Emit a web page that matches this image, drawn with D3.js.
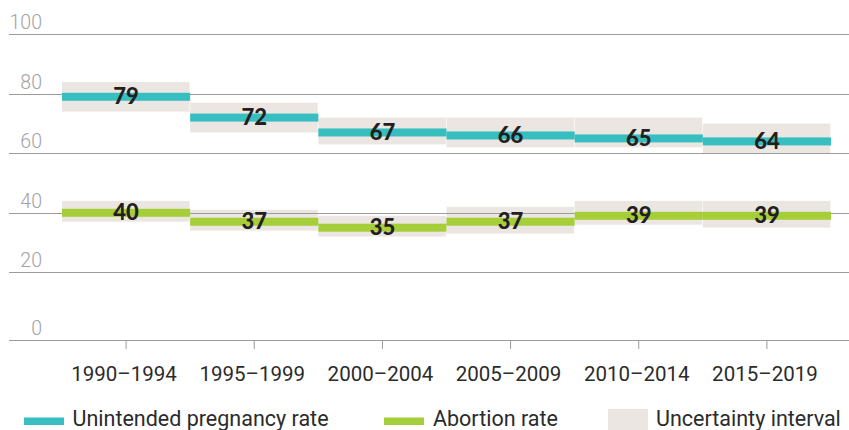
<!DOCTYPE html>
<html>
<head>
<meta charset="utf-8">
<script src="https://cdn.jsdelivr.net/npm/d3@7"></script>
<style>
  html, body { margin: 0; padding: 0; background: #fff; }
  svg { display: block; }
</style>
</head>
<body>
<svg id="chart" width="849" height="430"></svg>
<script>
// ---- data ----
const periods = ["1990–1994", "1995–1999", "2000–2004", "2005–2009", "2010–2014", "2015–2019"];
const unintendedRate = [79, 72, 67, 66, 65, 64];
const unintendedLow  = [74, 67, 63, 62, 62, 60];
const unintendedHigh = [84, 77, 72, 72, 72, 70];
const abortionRate   = [40, 37, 35, 37, 39, 39];
const abortionLow    = [37, 34, 32, 33, 36, 35];
const abortionHigh   = [44, 41, 39, 42, 44, 44];
const yTicks = [0, 20, 40, 60, 80, 100];
const legendLabels = ["Unintended pregnancy rate", "Abortion rate", "Uncertainty interval"];

// ---- styles ----
const C_CYAN = "#36bec0", C_GREEN = "#a6ce39", C_BAND = "#ebe6e2";
const C_GRID = "#9b9b9b", C_YLAB = "#a3a3a3", C_TEXT = "#231f20";

const svg = d3.select("#chart");

const x = d3.scaleBand().domain(periods).range([62, 831]).padding(0);
// axis drawn with the zero line at the base of the plot
const y = d3.scaleLinear().domain([0, 20, 100]).range([340, 272.3, 34.3]);

// uncertainty bands
const bands = svg.append("g");
function drawBands(lo, hi) {
  bands.selectAll(null).data(periods).enter().append("rect")
    .attr("x", d => x(d))
    .attr("width", x.bandwidth() - 0.6)
    .attr("y", (d, i) => y(hi[i]))
    .attr("height", (d, i) => y(lo[i]) - y(hi[i]))
    .attr("fill", C_BAND);
}
drawBands(unintendedLow, unintendedHigh);
drawBands(abortionLow, abortionHigh);

// gridlines
svg.append("g").selectAll("line").data(yTicks).enter().append("line")
  .attr("x1", 9).attr("x2", 849)
  .attr("y1", d => Math.round(y(d)) + 0.5).attr("y2", d => Math.round(y(d)) + 0.5)
  .attr("stroke", C_GRID).attr("stroke-width", 1);

// y labels
svg.append("g").selectAll("text").data(yTicks).enter().append("text")
  .attr("x", 42).attr("y", d => y(d) - 5)
  .attr("text-anchor", "end")
  .attr("font-family", "Roboto, sans-serif").attr("font-weight", 300)
  .attr("font-size", 19.5).attr("fill", C_YLAB)
  .text(d => d);

// x axis ticks and labels
const xAxis = d3.axisBottom(x).tickSize(9).tickPadding(17);
const gx = svg.append("g").attr("transform", "translate(0,340)").call(xAxis);
gx.select(".domain").remove();
gx.selectAll(".tick line").attr("stroke", C_GRID);
gx.selectAll(".tick text")
  .attr("font-family", "Roboto, sans-serif").attr("font-weight", 400)
  .attr("font-size", 20.5).attr("fill", "#2b2b2b").attr("dx", -2);

// rate lines
function drawRates(vals, color) {
  const g = svg.append("g");
  g.selectAll("rect").data(periods).enter().append("rect")
    .attr("x", d => x(d))
    .attr("width", x.bandwidth())
    .attr("y", (d, i) => y(vals[i]) - 4)
    .attr("height", 8)
    .attr("fill", color);
  g.selectAll("text").data(periods).enter().append("text")
    .attr("x", d => x(d) + x.bandwidth() / 2)
    .attr("y", (d, i) => y(vals[i]) + 7.5)
    .attr("text-anchor", "middle")
    .attr("font-family", "Lato, sans-serif").attr("font-weight", 900)
    .attr("font-size", 22).attr("fill", C_TEXT)
    .text((d, i) => vals[i]);
}
drawRates(unintendedRate, C_CYAN);
drawRates(abortionRate, C_GREEN);

// legend
const legend = svg.append("g");
const legendItems = [
  { label: legendLabels[0], color: C_CYAN, sx: 24, tx: 72.5, sy: 417.5, sh: 7.5 },
  { label: legendLabels[1], color: C_GREEN, sx: 384, tx: 433, sy: 417.5, sh: 7.5 },
  { label: legendLabels[2], color: C_BAND, sx: 608, tx: 656, sy: 409, sh: 21 }
];
legendItems.forEach(it => {
  legend.append("rect").attr("x", it.sx).attr("y", it.sy).attr("width", 40).attr("height", it.sh).attr("fill", it.color);
  legend.append("text").attr("x", it.tx).attr("y", 425.5)
    .attr("font-family", "Roboto, sans-serif").attr("font-weight", 400)
    .attr("font-size", 21.5).attr("fill", "#2b2b2b")
    .text(it.label);
});
</script>
</body>
</html>
